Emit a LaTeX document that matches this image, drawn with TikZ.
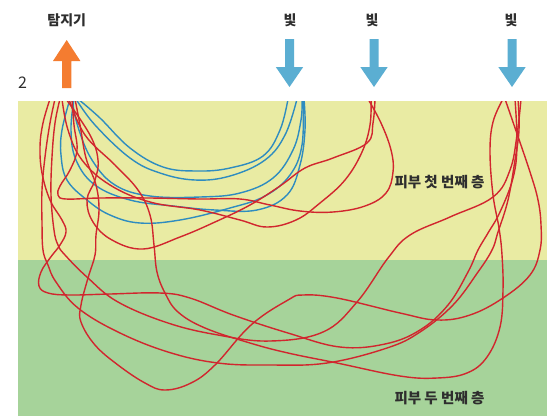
\documentclass[tikz,border=0pt]{standalone}
\usepackage{fontspec}
\newfontfamily\kr{Noto Sans CJK KR}
\definecolor{layerone}{HTML}{E9EBA3}
\definecolor{layertwo}{HTML}{A6D39A}
\definecolor{pathred}{HTML}{D1262E}
\definecolor{pathblue}{HTML}{2E8CC0}
\definecolor{srcblue}{HTML}{5BAED2}
\definecolor{detorange}{HTML}{F47C30}
\definecolor{labelgray}{HTML}{2E2E2E}
\tikzset{
  redpath/.style={draw=pathred, line width=1.4bp, smooth, tension=0.65},
  bluepath/.style={draw=pathblue, line width=1.4bp, smooth, tension=0.65},
  toplabel/.style={font=\kr\bfseries\fontsize{14bp}{16bp}\selectfont, text=labelgray, inner sep=0pt},
  layerlabel/.style={font=\kr\bfseries\fontsize{14.5bp}{16bp}\selectfont, text=labelgray, inner sep=0pt},
}
\begin{document}
\begin{tikzpicture}[x=1bp,y=-1bp]
\useasboundingbox (0,0) rectangle (547,416);

% skin layers
\fill[layerone] (18,101) rectangle (547,260);
\fill[layertwo] (18,260) rectangle (547,416);

\begin{scope}
\clip (18,101) rectangle (547,416);
% photon paths that stay in the first layer
\draw[bluepath] plot coordinates {(78,99) (100,118) (130,148) (163,167) (197,171) (230,168) (263,156) (280,130) (288,99)};
\draw[bluepath] plot coordinates {(76,99) (95,125) (130,158) (160,173) (195,180) (230,176) (265,160) (285,135) (297,99)};
\draw[bluepath] plot coordinates {(72,99) (78,127) (92,160) (115,185) (150,196) (200,197) (240,193) (273,178) (293,150) (301,120) (302,99)};
\draw[bluepath] plot coordinates {(74,99) (71,130) (76,160) (95,185) (130,200) (173,206) (215,210) (257,210) (287,195) (300,165) (305,130) (304,99)};
\draw[bluepath] plot coordinates {(70,99) (62,130) (61,155) (67,180) (87,200) (110,215) (140,223) (180,220) (230,208) (265,196) (290,175) (302,145) (303,99)};

% photon paths reaching the second layer
\draw[redpath] plot coordinates {(50,99) (43,123) (40,147) (42,173) (50,200) (62,220) (66,232) (60,245) (50,258) (41,272) (39,286) (48,293) (70,295) (110,294) (160,293) (190,298) (233,315) (288,333) (340,347) (385,344) (420,330) (448,305) (468,272) (478,250) (488,233) (500,212) (513,178) (517,145) (515,99)};
\draw[redpath] plot coordinates {(55,99) (50,123) (45,157) (42,190) (42,223) (43,250) (48,265) (56,282) (78,308) (118,332) (168,352) (218,363) (270,365) (327,363) (387,348) (420,332) (453,305) (478,272) (492,250) (498,232) (508,200) (515,160) (519,130) (518,99)};
\draw[redpath] plot coordinates {(60,99) (55,123) (52,157) (51,195) (54,230) (58,245) (65,255) (88,278) (118,302) (168,323) (218,335) (270,341) (323,332) (357,302) (388,258) (410,235) (450,217) (493,197) (510,170) (517,135) (521,99)};
\draw[redpath] plot coordinates {(69,99) (85,135) (115,165) (138,190) (150,215) (154,245) (157,272) (165,293) (178,312) (205,328) (250,343) (288,353) (337,363) (400,376) (437,378) (467,373) (487,357) (500,327) (503,290) (502,255) (499,228) (493,195) (490,152) (493,122) (503,99)};
\draw[redpath] plot coordinates {(75,99) (80,125) (86,158) (96,185) (99,210) (96,235) (95,255) (88,278) (81,305) (81,322) (95,345) (118,365) (145,383) (165,390) (191,383) (215,365) (251,325) (288,300) (303,295) (337,298) (400,313) (437,320) (470,315) (503,298) (530,275) (540,250) (541,225) (538,200) (530,172) (514,125) (505,99)};

% photon paths from the middle source
\draw[redpath] plot coordinates {(375,99) (373,123) (367,143) (333,158) (305,168) (280,186) (250,205) (215,222) (180,237) (143,249) (112,240) (93,222) (87,200) (95,180) (98,160) (90,135) (66,99)};
\draw[redpath] plot coordinates {(368,99) (381,123) (391,150) (393,172) (386,193) (365,206) (333,212) (300,211) (270,205) (240,199) (200,199) (150,198) (100,198) (66,199) (58,195) (60,186) (70,170) (77,150) (74,125) (72,99)};
\draw[redpath] plot coordinates {(62,99) (68,130) (82,160) (110,185) (150,202) (200,210) (240,220) (267,227) (296,220) (320,203) (345,180) (362,152) (370,125) (371,99)};
\end{scope}

% detector and light sources
\fill[detorange] (62,88) -- (62,61) -- (53,61) -- (66.7,40) -- (80.4,61) -- (71.4,61) -- (71.4,88) -- cycle;
\foreach \cx in {289.5,374,512}{
  \fill[srcblue] (\cx-4.5,39) -- (\cx+4.5,39) -- (\cx+4.5,67) -- (\cx+13.7,67) -- (\cx,87) -- (\cx-13.7,67) -- (\cx-4.5,67) -- cycle;
}

% labels
\node[toplabel] (det) at (66.7,20.5) {탐지기};
\node[toplabel] (lightA) at (290,20.5) {빛};
\node[toplabel] (lightB) at (372,20.5) {빛};
\node[toplabel] (lightC) at (511,20.5) {빛};
\node[font=\kr\fontsize{16bp}{18bp}\selectfont, text=labelgray, inner sep=0pt] (fig) at (22.5,83) {2};
\node[layerlabel] (first) at (439.5,182) {피부 첫 번째 층};
\node[layerlabel] (second) at (439.5,398) {피부 두 번째 층};
\end{tikzpicture}
\end{document}
